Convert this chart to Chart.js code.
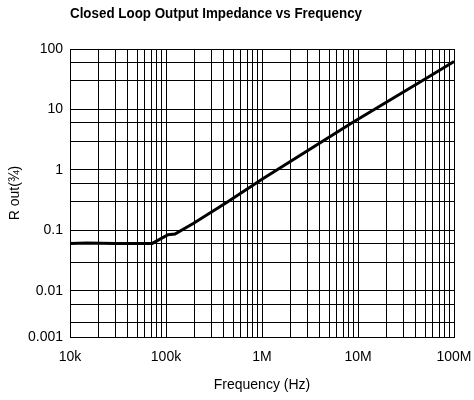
<!DOCTYPE html>
<html>
<head>
<meta charset="utf-8">
<script src="https://cdn.jsdelivr.net/npm/chart.js@4.4.1/dist/chart.umd.min.js"></script>
<style>
html,body{margin:0;padding:0;background:#fff;}
canvas{display:block;}
</style>
</head>
<body>
<canvas id="c" width="474" height="400"></canvas>
<script>
// Data
const frequencies = [1e4, 1.5e4, 3e4, 7.2e4, 1.05e5, 1.24e5, 1.92e5, 4.28e5, 1e6, 8.6e6, 5e7, 1e8];
const routValues  = [0.061, 0.062, 0.061, 0.061, 0.085, 0.087, 0.13, 0.29, 0.7, 6.0, 32, 62];

const xTickValues = [];
for (let d = 4; d <= 8; d++) {
  for (let m = 1; m <= 9; m++) {
    if (d === 8 && m > 1) break;
    xTickValues.push(m * Math.pow(10, d));
  }
}
const xDecadeLabels = {10000: '10k', 100000: '100k', 1000000: '1M', 10000000: '10M', 100000000: '100M'};

const yTickValues = [0.00173, 0.003, 0.006, 0.01, 0.03, 0.06, 0.1, 0.3, 0.6, 1, 3, 6, 10, 30, 60, 100];
const yTickLabels = ['0.001', '', '', '0.01', '', '', '0.1', '', '', '1', '', '', '10', '', '', '100'];

const titleText = 'Closed Loop Output Impedance vs Frequency';
const xTitle = 'Frequency (Hz)';
const yTitle = 'R out(\u00BE)';

const titlePlugin = {
  id: 'leftTitle',
  afterDraw(chart) {
    const ctx = chart.ctx;
    ctx.save();
    ctx.font = 'bold 14px "Liberation Sans Narrow", "Arial Narrow", "Liberation Sans", sans-serif';
    ctx.fillStyle = '#000';
    ctx.textAlign = 'left';
    ctx.textBaseline = 'middle';
    const w = ctx.measureText(titleText).width;
    const targetW = 292;
    ctx.translate(chart.chartArea.left, 14);
    ctx.scale(targetW / w, 1.05);
    ctx.fillText(titleText, 0, 0);
    ctx.restore();
  }
};

const baseFont = {family: '"Liberation Sans", Arial, sans-serif', size: 14};

new Chart(document.getElementById('c'), {
  type: 'line',
  data: {
    datasets: [{
      data: frequencies.map((f, i) => ({x: f, y: routValues[i]})),
      borderColor: '#000',
      borderWidth: 3,
      pointRadius: 0,
      tension: 0,
      fill: false
    }]
  },
  options: {
    responsive: false,
    animation: false,
    layout: {padding: {top: 49, right: 20, left: 0, bottom: 0}},
    plugins: {legend: {display: false}, tooltip: {enabled: false}},
    scales: {
      x: {
        type: 'logarithmic',
        min: 1e4,
        max: 1e8,
        afterBuildTicks(scale) { scale.ticks = xTickValues.map(v => ({value: v})); },
        afterFit(scale) { scale.height = 63; scale.paddingRight = 0; scale.paddingLeft = 0; },
        grid: {color: '#000', lineWidth: 1, drawTicks: false},
        border: {color: '#000', width: 1},
        ticks: {
          autoSkip: false, maxRotation: 0, minRotation: 0,
          color: '#000', font: baseFont, padding: 12,
          callback(value) { return xDecadeLabels[value] !== undefined ? xDecadeLabels[value] : ''; }
        },
        title: {display: true, text: xTitle, color: '#000', font: baseFont, padding: {top: 0, bottom: 6}}
      },
      y: {
        type: 'logarithmic',
        min: 0.00173,
        max: 100,
        afterBuildTicks(scale) { scale.ticks = yTickValues.map(v => ({value: v})); },
        afterFit(scale) { scale.width = 70; scale.paddingTop = 0; scale.paddingBottom = 0; },
        grid: {color: '#000', lineWidth: 1, drawTicks: false},
        border: {color: '#000', width: 1},
        ticks: {
          autoSkip: false, color: '#000', font: baseFont, padding: 7,
          callback(value, index) { return yTickLabels[index]; }
        },
        title: {display: true, text: yTitle, color: '#000', font: baseFont, padding: {top: 7, bottom: 0}}
      }
    }
  },
  plugins: [titlePlugin]
});
</script>
</body>
</html>
